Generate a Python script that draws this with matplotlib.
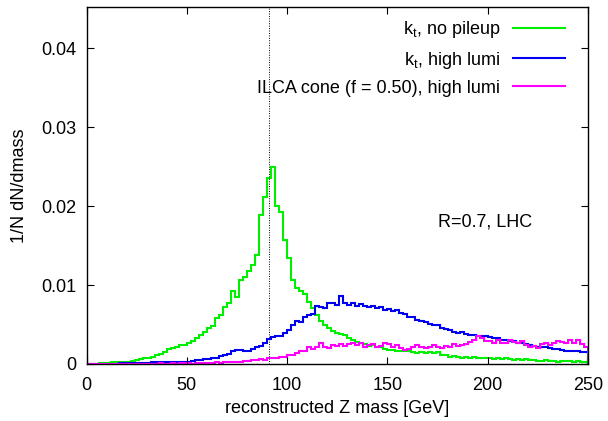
import numpy as np
import matplotlib
matplotlib.use("Agg")
import matplotlib.pyplot as plt

# histogram bins: 2 GeV wide, 0..250 GeV
bin_edges = np.arange(0, 252, 2)

# bin contents in units of 1e-4 (1/N dN/dmass)
kt_nopileup = [
    0, 0, 0, 1, 1, 1, 2, 2, 2, 3,
    3, 4, 5, 6, 7, 8, 9, 11, 13, 15,
    19, 20, 22, 24, 24, 27, 29, 33, 37, 40,
    45, 48, 58, 62, 72, 77, 92, 85, 106, 110,
    118, 125, 138, 189, 212, 236, 249, 200, 193, 157,
    134, 106, 96, 92, 88, 79, 71, 62, 55, 49,
    45, 42, 39, 38, 37, 33, 31, 28, 27, 25,
    23, 24, 22, 21, 19, 18, 18, 17, 16, 17,
    16, 15, 14, 15, 14, 15, 14, 15, 12, 11,
    9, 10, 9, 8, 9, 8, 9, 7, 8, 7,
    7, 6, 7, 6, 8, 6, 5, 6, 5, 6,
    5, 5, 4, 4, 5, 4, 4, 3, 4, 4,
    4, 3, 4, 3, 3,
]
kt_highlumi = [
    0, 0, 0, 0, 0, 0, 0, 0, 1, 1,
    1, 1, 1, 1, 1, 1, 2, 2, 2, 2,
    2, 2, 3, 3, 3, 3, 4, 5, 5, 6,
    6, 8, 8, 10, 12, 13, 17, 18, 18, 16,
    16, 19, 21, 23, 27, 32, 34, 35, 36, 39,
    43, 49, 54, 53, 60, 62, 63, 73, 72, 71,
    77, 77, 75, 86, 77, 75, 77, 74, 76, 73,
    72, 73, 71, 72, 69, 70, 67, 68, 65, 63,
    60, 60, 56, 54, 53, 51, 50, 49, 46, 44,
    43, 41, 39, 40, 38, 37, 37, 36, 36, 35,
    34, 33, 33, 31, 30, 29, 29, 27, 26, 25,
    24, 23, 22, 21, 21, 20, 19, 19, 18, 17,
    17, 16, 16, 15, 15,
]
ilca_highlumi = [
    0, 0, 0, 0, 0, 0, 0, 0, 0, 0,
    0, 0, 0, 0, 0, 0, 0, 0, 1, 0,
    0, 1, 0, 1, 1, 1, 0, 1, 1, 1,
    1, 1, 2, 1, 2, 2, 3, 3, 3, 4,
    4, 5, 5, 6, 5, 7, 8, 7, 9, 9,
    11, 12, 14, 17, 16, 22, 19, 21, 27, 22,
    20, 24, 23, 25, 23, 25, 27, 24, 26, 22,
    24, 25, 21, 23, 27, 25, 22, 24, 20, 18,
    19, 21, 24, 22, 20, 21, 24, 22, 20, 23,
    21, 25, 23, 24, 25, 28, 31, 35, 33, 29,
    29, 27, 30, 27, 26, 30, 28, 26, 29, 24,
    22, 23, 20, 25, 26, 24, 27, 29, 28, 27,
    30, 26, 31, 25, 22,
]

labels = [r"$\mathregular{k_t}$, no pileup",
          r"$\mathregular{k_t}$, high lumi",
          "ILCA cone (f = 0.50), high lumi"]
colors = ["#00ee00", "#0000ee", "#ff00ff"]

z_mass = 91.19
xticks = [0, 50, 100, 150, 200, 250]
yticks = [0, 0.01, 0.02, 0.03, 0.04]
ytick_labels = ["0", "0.01", "0.02", "0.03", "0.04"]

plt.rcParams['font.family'] = ['Liberation Sans', 'DejaVu Sans']
plt.rcParams['mathtext.fontset'] = 'custom'
plt.rcParams['mathtext.rm'] = 'Liberation Sans'
fs = 13

fig = plt.figure(figsize=(6.08, 4.21), dpi=100)
ax = fig.add_axes([86.5 / 608, 57 / 421, (588 - 86.5) / 608, (364 - 7) / 421])

for vals, lab, col in zip([kt_nopileup, kt_highlumi, ilca_highlumi], labels, colors):
    ax.stairs(np.array(vals) * 1e-4, bin_edges, color=col, lw=1.5, label=lab)

ax.axvline(z_mass, color='black', ls=(0, (1, 1.5)), lw=0.7)

ax.set_xlim(0, 250)
ax.set_ylim(0, 0.0452)
ax.set_xticks(xticks)
ax.set_yticks(yticks)
ax.set_yticklabels(ytick_labels)
ax.tick_params(direction='in', length=5, width=0.8, top=True, right=True,
               labelsize=fs)
ax.tick_params(axis='x', pad=9)
ax.tick_params(axis='y', pad=7)
for sp in ax.spines.values():
    sp.set_linewidth(1.0)

ax.set_xlabel("reconstructed Z mass [GeV]", fontsize=fs, labelpad=5)
ax.set_ylabel("1/N dN/dmass", fontsize=fs, labelpad=10)

ax.text(175, 0.018, "R=0.7, LHC", fontsize=fs, va='center', ha='left')

ax.legend(loc='upper right', bbox_to_anchor=(0.955, 0.965), frameon=False,
          markerfirst=False, fontsize=fs, handlelength=2.9, handletextpad=0.7,
          labelspacing=0.5, borderaxespad=0, borderpad=0)

fig.savefig("out.png", dpi=100)
